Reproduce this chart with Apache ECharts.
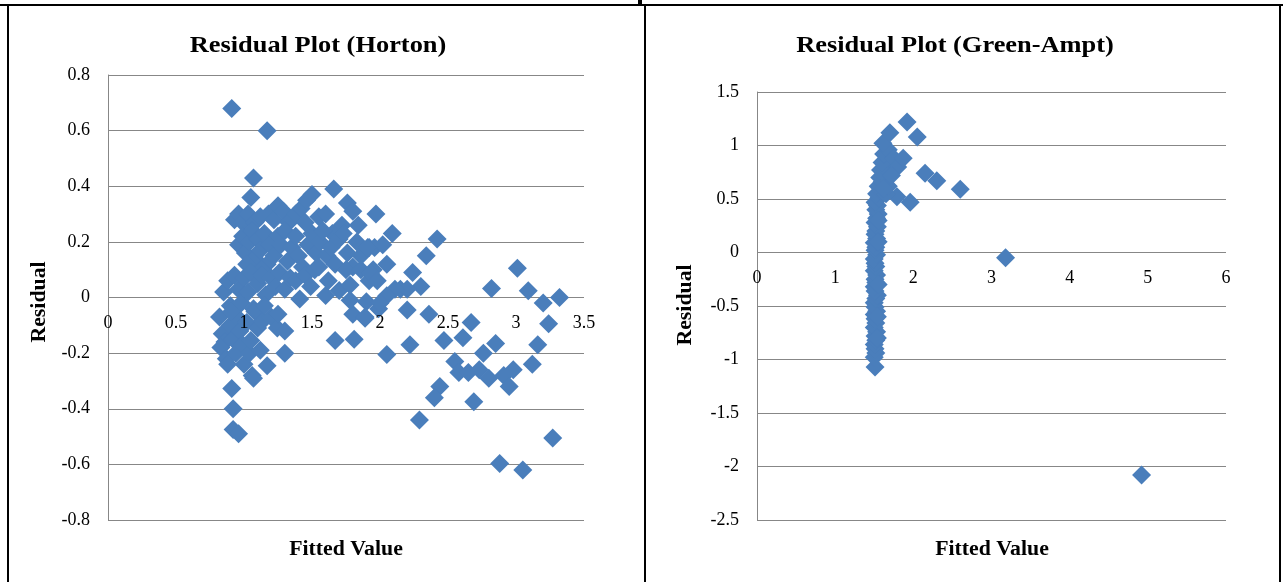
<!DOCTYPE html>
<html lang="en">
<head>
  <meta charset="UTF-8">
  <title>Residual Plots</title>
  <style>html,body{margin:0;padding:0;background:#fff;}</style>
</head>
<body>
  <div id="chart" style="width:1283px;height:582px;"></div>
</body>
</html>
<script src="https://cdn.jsdelivr.net/npm/echarts@6/dist/echarts.min.js"></script>
<script>
  // Horton: fitted value / residual
  var hortonFitted = [
    0.91, 1.17, 1.07, 1.05,
    0.93, 0.96, 0.99, 1.03, 1.08, 1.12, 1.18, 1.22, 1.25, 1.29, 1.33, 1.38, 1.42, 1.46, 1.50, 1.45, 1.55, 1.60, 1.66, 1.72, 1.76, 1.80, 1.84, 1.97, 1.65,
    0.96, 0.99, 1.01, 1.04, 1.06, 1.08, 1.10, 1.12, 1.15, 1.17, 1.19, 1.22, 1.25, 1.27, 1.30, 1.32, 1.35, 1.38, 1.40, 1.43, 1.47, 1.50, 1.53, 1.56, 1.58, 1.61, 1.64, 1.67, 1.70, 1.73, 1.76, 1.80, 1.86, 1.92, 1.96, 1.83, 1.02, 1.13,
    0.85, 0.88, 0.90, 0.93, 0.96, 0.98, 1.00, 1.03, 1.05, 1.07, 1.10, 1.13, 1.16, 1.20, 1.23, 1.26, 1.30, 1.34, 1.38, 1.41, 1.45, 1.49, 1.52, 1.55, 1.60, 1.62, 1.70, 1.75, 1.78, 1.86, 1.90, 1.92, 1.95, 1.99, 2.05, 2.15, 1.80, 1.89,
    0.82, 0.84, 0.86, 0.83, 0.87, 0.90, 0.92, 0.94, 0.95, 0.97, 0.99, 1.00, 1.02, 1.04, 1.05, 1.08, 1.10, 1.12, 1.135, 1.17, 1.20, 1.245, 1.30, 1.30, 0.88, 1.06, 0.91, 1.15, 1.25,
    0.91, 0.92, 0.92, 0.96, 1.07,
    2.42, 2.34, 2.24, 2.30, 2.20, 2.11, 2.05, 1.93, 1.98, 2.00, 1.78, 1.89, 2.20, 2.36, 2.67, 2.47, 2.61, 2.82, 3.01, 3.09, 3.20, 3.32, 3.24,
    1.67, 1.81, 2.05, 2.22, 2.76, 2.85, 3.16, 3.12, 2.55, 2.58, 2.65, 2.73, 2.80, 2.91, 2.98, 2.95, 2.44, 2.40, 2.69, 2.29, 3.27, 2.88, 3.05,
    2.09, 2.02, 1.91
  ];
  var hortonResidual = [
    0.68, 0.60, 0.43, 0.36,
    0.28, 0.30, 0.27, 0.30, 0.27, 0.29, 0.30, 0.28, 0.33, 0.31, 0.27, 0.30, 0.32, 0.35, 0.37, 0.27, 0.29, 0.30, 0.39, 0.26, 0.34, 0.31, 0.26, 0.30, 0.23,
    0.19, 0.22, 0.16, 0.20, 0.24, 0.14, 0.21, 0.17, 0.23, 0.12, 0.19, 0.15, 0.22, 0.19, 0.24, 0.13, 0.18, 0.22, 0.15, 0.11, 0.19, 0.23, 0.16, 0.20, 0.24, 0.15, 0.18, 0.12, 0.21, 0.23, 0.16, 0.11, 0.15, 0.18, 0.18, 0.20, 0.12, 0.10,
    0.02, 0.06, -0.03, 0.08, 0.03, -0.02, 0.07, 0.02, 0.09, -0.04, 0.05, 0.08, 0.01, 0.07, 0.04, 0.09, 0.03, 0.07, 0.06, -0.005, 0.08, 0.04, 0.10, 0.11, 0.007, 0.06, 0.025, 0.10, 0.045, 0.10, -0.015, 0.06, 0.10, -0.04, 0.12, 0.03, -0.06, -0.075,
    -0.07, -0.13, -0.16, -0.18, -0.22, -0.10, -0.15, -0.20, -0.07, -0.12, -0.17, -0.24, -0.09, -0.20, -0.155, -0.05, -0.11, -0.19, -0.085, -0.245, -0.07, -0.11, -0.12, -0.20, -0.24, -0.28, -0.05, -0.03, -0.06,
    -0.327, -0.40, -0.475, -0.49, -0.29,
    0.21, 0.15, 0.09, 0.04, 0.03, 0.03, 0.006, 0.085, 0.06, -0.02, -0.01, -0.07, -0.045, -0.06, -0.09, -0.155, -0.145, 0.032, 0.105, 0.024, -0.02, 0.0, -0.094,
    -0.155, -0.15, -0.205, -0.17, -0.20, -0.165, -0.17, -0.24, -0.23, -0.27, -0.27, -0.26, -0.29, -0.28, -0.26, -0.32, -0.32, -0.36, -0.375, -0.44, -0.505, -0.597, -0.62,
    0.23, 0.19, 0.18
  ];

  // Green-Ampt: fitted value / residual
  var gaFitted = [
    1.51, 1.50, 1.52, 1.51, 1.50, 1.52, 1.51, 1.53, 1.50, 1.52, 1.51, 1.50, 1.53, 1.51, 1.50, 1.52, 1.54, 1.51, 1.50, 1.52,
    1.51, 1.53, 1.50, 1.52, 1.51, 1.50, 1.53, 1.51, 1.52, 1.50, 1.53, 1.51, 1.52, 1.54, 1.51, 1.53, 1.55, 1.52, 1.54, 1.51,
    1.56, 1.53, 1.58, 1.55, 1.60, 1.57, 1.62, 1.58, 1.64, 1.60, 1.66, 1.62, 1.68, 1.61, 1.70, 1.75, 1.80, 1.87, 1.79, 1.96,
    1.65, 1.68, 1.72, 1.62, 1.92, 2.05, 2.15, 2.30, 2.60, 3.18, 4.92,
    1.55, 1.54, 1.55, 1.54, 1.55
  ];
  var gaResidual = [
    -1.07, -0.98, -0.94, -0.90, -0.86, -0.82, -0.78, -0.74, -0.70, -0.66, -0.62, -0.58, -0.55, -0.51, -0.47, -0.43, -0.40, -0.36, -0.32, -0.28,
    -0.25, -0.21, -0.17, -0.13, -0.10, -0.06, -0.02, 0.02, 0.05, 0.09, 0.13, 0.17, 0.20, 0.24, 0.28, 0.32, 0.36, 0.40, 0.44, 0.47,
    0.51, 0.55, 0.58, 0.62, 0.66, 0.70, 0.73, 0.77, 0.80, 0.84, 0.88, 0.92, 0.96, 1.02, 1.12, 0.88, 0.80, 0.88, 0.52, 0.47,
    0.55, 0.62, 0.72, 0.60, 1.22, 1.08, 0.74, 0.67, 0.59, -0.05, -2.08,
    -0.30, -0.80, 0.10, -0.60, 0.30
  ];

  function pairs(xs, ys) {
    var out = [];
    for (var i = 0; i < xs.length; i++) out.push([xs[i], ys[i]]);
    return out;
  }

  var gray = '#878787';
  var blue = '#4a7ebb';
  var serif = 'Liberation Serif';
  var lbl = { color: '#000', fontFamily: serif, fontSize: 18 };

  // x axis sits on the zero line (shifted up from grid bottom), labels drawn over the points
  function xAx(idx, max, interval, shift) {
    return {
      gridIndex: idx, type: 'value', min: 0, max: max, interval: interval,
      position: 'bottom', offset: shift, z: 5,
      axisLine: { show: false, onZero: false },
      axisTick: { show: false },
      splitLine: { show: false },
      axisLabel: Object.assign({ margin: 17 }, lbl)
    };
  }
  function yAx(idx, min, max, interval) {
    return {
      gridIndex: idx, type: 'value', min: min, max: max, interval: interval,
      axisLine: { show: true, onZero: false, lineStyle: { color: gray } },
      axisTick: { show: false },
      splitLine: { show: true, lineStyle: { color: gray, width: 1 } },
      axisLabel: Object.assign({ margin: 18 }, lbl)
    };
  }
  function txt(s, x, y, size, sx, rot) {
    return {
      type: 'text', x: x, y: y, rotation: rot || 0, scaleX: sx, scaleY: 1,
      style: { text: s, fill: '#000', font: 'bold ' + size + 'px "' + serif + '"', textAlign: 'center', textVerticalAlign: 'middle' }
    };
  }
  function line(x1, y1, x2, y2) {
    return { type: 'line', shape: { x1: x1, y1: y1, x2: x2, y2: y2 }, style: { stroke: '#000', lineWidth: 2 } };
  }

  var myChart = echarts.init(document.getElementById('chart'));
  var option = {
    animation: false,
    backgroundColor: '#fff',
    grid: [
      { left: 108, top: 75, width: 476, height: 445 },
      { left: 757, top: 92, width: 469, height: 428 }
    ],
    xAxis: [xAx(0, 3.5, 0.5, -223), xAx(1, 6, 1, -268)],
    yAxis: [yAx(0, -0.8, 0.8, 0.2), yAx(1, -2.5, 1.5, 0.5)],
    series: [
      {
        type: 'scatter', xAxisIndex: 0, yAxisIndex: 0, symbol: 'diamond', symbolSize: 19,
        itemStyle: { color: blue, opacity: 1 }, data: pairs(hortonFitted, hortonResidual)
      },
      {
        type: 'scatter', xAxisIndex: 1, yAxisIndex: 1, symbol: 'diamond', symbolSize: 19,
        itemStyle: { color: blue, opacity: 1 }, data: pairs(gaFitted, gaResidual)
      }
    ],
    graphic: [
      line(0, 5, 1283, 5),
      line(8, 5, 8, 582),
      line(645, 5, 645, 582),
      line(1280, 5, 1280, 582),
      { type: 'rect', shape: { x: 638, y: 0, width: 4, height: 5 }, style: { fill: '#000' } },
      txt('Residual Plot (Horton)', 318, 46, 24, 1.1),
      txt('Residual Plot (Green-Ampt)', 955, 46, 24, 1.1),
      txt('Residual', 40, 302, 20, 1.09, Math.PI / 2),
      txt('Residual', 686, 305, 20, 1.09, Math.PI / 2),
      txt('Fitted Value', 346, 550, 20, 1.09),
      txt('Fitted Value', 992, 550, 20, 1.09)
    ]
  };
  myChart.setOption(option);
</script>
